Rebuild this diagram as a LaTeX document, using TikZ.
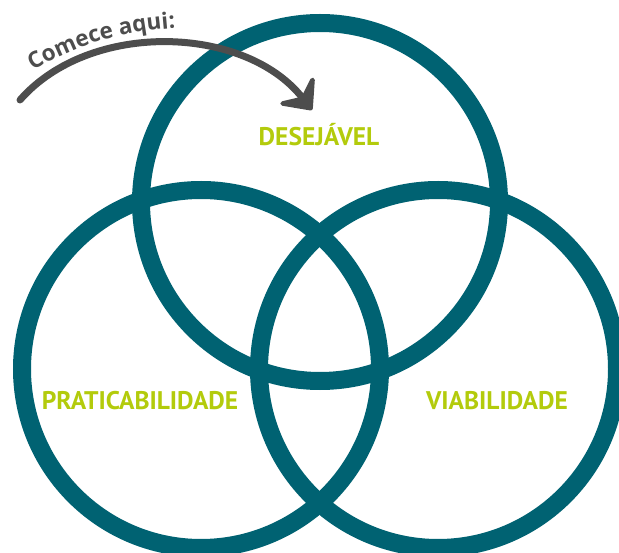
\documentclass[tikz,border=0pt]{standalone}
\usepackage{fontspec}
\newfontfamily\areafont{PT Sans}
\newfontfamily\startfont{Open Sans}
\usetikzlibrary{arrows.meta,decorations.text}
\definecolor{petrol}{HTML}{006272}
\definecolor{lime}{HTML}{B3CB0C}
\definecolor{arrowgray}{HTML}{4D4D4D}

\begin{document}
\begin{tikzpicture}[x=1pt,y=-1pt,
	ring/.style={circle,draw=petrol,line width=18pt,minimum size=358pt,inner sep=0pt},
	area/.style={anchor=base,text=lime,font=\areafont\bfseries\fontsize{25.5}{25.5}\selectfont}]
	\useasboundingbox (0,0) rectangle (619,553);
	\clip (0,0) rectangle (619,553);
	% the three rings
	\node[ring] (desejo) at (320,202) {};
	\node[ring] (pratica) at (201,369) {};
	\node[ring] (viavel) at (438,369) {};
	% names of the areas
	\node[area] (desejavel) at (319,145.5) {DESEJÁVEL};
	\node[area] (praticabilidade) at (140,409.5) {PRATICABILIDADE};
	\node[area] (viabilidade) at (497,409.5) {VIABILIDADE};
	% start arrow
	\coordinate (inicio) at (20,100);
	\coordinate (alvo) at (312,110);
	\draw[arrowgray,line width=7pt,line cap=round,
		-{Stealth[length=31pt,width=56pt,inset=13pt,round]}]
		(inicio) .. controls (90,20) and (245,25) .. (alvo);
	\path[decorate,decoration={text along path,text align=left,
		text={|\startfont\bfseries\fontsize{22.5}{22.5}\selectfont\color{arrowgray}|Comece aqui:}}]
		(33,71) .. controls (85,40) and (135,28) .. (200,27);
\end{tikzpicture}
\end{document}
